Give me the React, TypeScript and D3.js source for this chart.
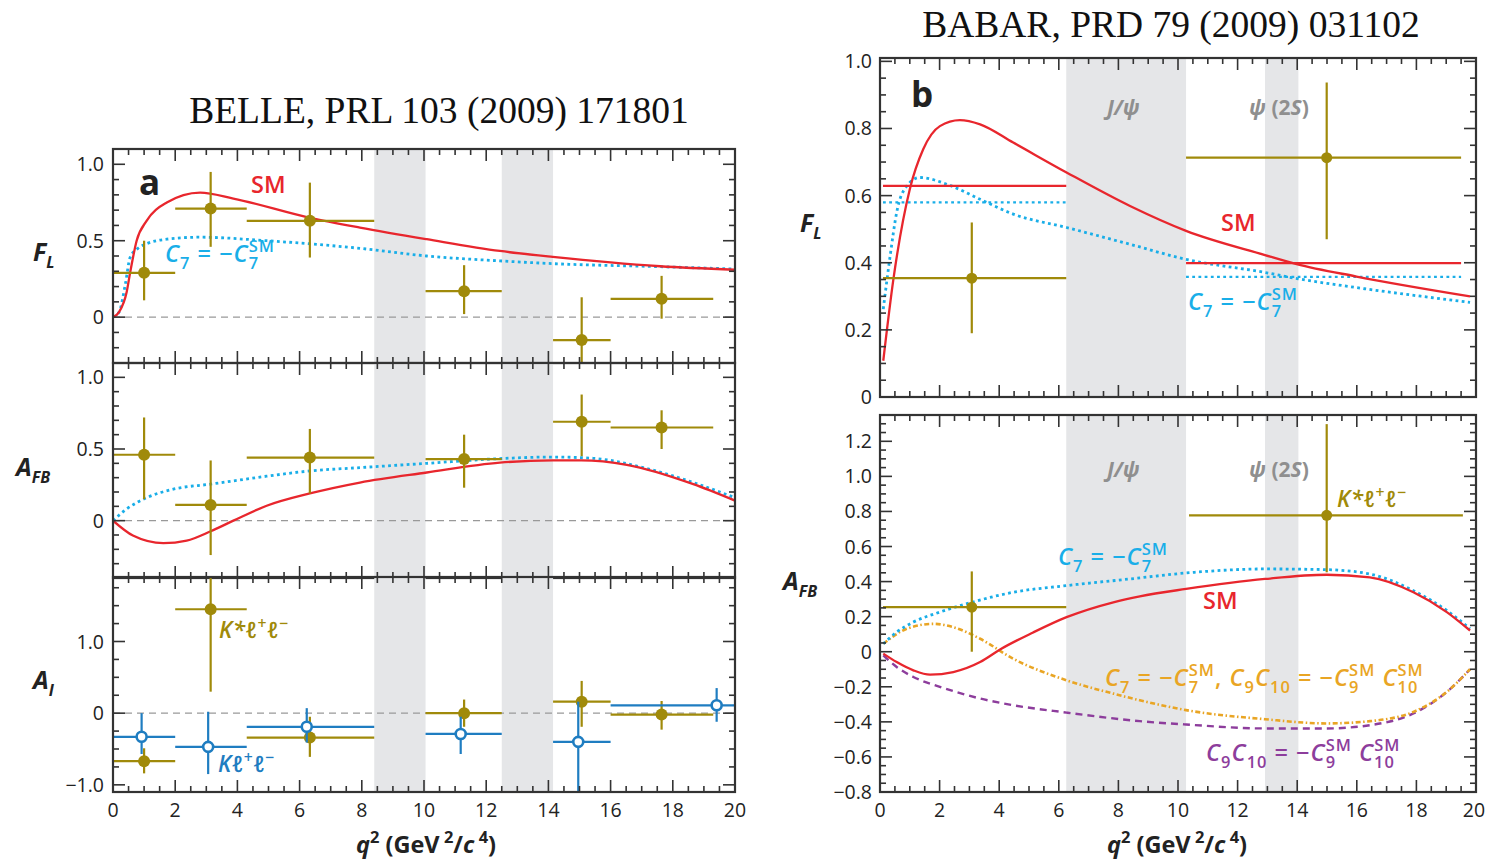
import React from 'react';
import * as d3 from 'd3';

const W = 1485;
const H = 860;
const FONT = "'Open Sans', 'Noto Sans', sans-serif";

// ---------------- Belle data (panel a) ----------------
const belleBinLo = [0, 2, 4.3, 10.05, 14.15, 16];
const belleBinHi = [2, 4.3, 8.4, 12.5, 16, 19.3];
const belleQ = [1.0, 3.14, 6.33, 11.29, 15.07, 17.64];
const belleFL = [0.29, 0.71, 0.63, 0.17, -0.15, 0.12];
const belleFLUp = [0.21, 0.24, 0.25, 0.17, 0.28, 0.15];
const belleFLDn = [0.18, 0.25, 0.24, 0.15, 0.25, 0.13];
const belleAFB = [0.46, 0.11, 0.44, 0.43, 0.69, 0.65];
const belleAFBUp = [0.26, 0.31, 0.2, 0.17, 0.19, 0.12];
const belleAFBDn = [0.31, 0.35, 0.25, 0.2, 0.24, 0.15];
const belleAIKst = [-0.67, 1.45, -0.34, 0.0, 0.16, -0.02];
const belleAIKstUp = [0.18, 0.45, 0.29, 0.19, 0.29, 0.19];
const belleAIKstDn = [0.17, 1.15, 0.27, 0.19, 0.35, 0.21];
const belleKQ = [0.92, 3.06, 6.23, 11.18, 14.96, 19.41];
const belleKLo = [0, 2, 4.3, 10.05, 14.15, 16];
const belleKHi = [2, 4.3, 8.4, 12.5, 16, 20];
const belleAIK = [-0.33, -0.47, -0.19, -0.29, -0.4, 0.11];
const belleAIKUp = [0.33, 0.49, 0.26, 0.24, 0.56, 0.24];
const belleAIKDn = [0.24, 0.38, 0.22, 0.28, 0.8, 0.23];
const belleVeto: [number, number][] = [[8.4, 10.05], [12.5, 14.15]];

// theory curves, panel a
const smFL_a: [number, number][] = [[0, 0], [0.2, 0.035], [0.44, 0.165], [0.55, 0.29], [0.76, 0.5], [1.08, 0.63], [1.73, 0.75], [2.8, 0.815], [3.87, 0.776], [6.33, 0.65], [7.94, 0.586], [10.09, 0.51], [12.44, 0.433], [14.14, 0.394], [17.59, 0.333], [20, 0.31]];
const c7FL_a: [number, number][] = [[0, 0], [0.2, 0.035], [0.4, 0.22], [0.55, 0.39], [0.8, 0.45], [1.08, 0.48], [1.73, 0.51], [2.8, 0.523], [4.94, 0.5], [7.94, 0.45], [10.09, 0.4], [12.44, 0.368], [14.14, 0.35], [17.59, 0.33], [20, 0.315]];
const smAFB_a: [number, number][] = [[0, 0], [0.64, -0.104], [1.62, -0.157], [2.37, -0.139], [3.14, -0.074], [3.87, 0], [4.94, 0.104], [6.33, 0.19], [7.94, 0.266], [10.09, 0.336], [12.44, 0.405], [14.14, 0.42], [15.05, 0.42], [16.52, 0.39], [18.66, 0.255], [20, 0.14]];
const c7AFB_a: [number, number][] = [[0, 0], [0.43, 0.08], [1.08, 0.16], [1.94, 0.22], [3.14, 0.255], [4.94, 0.31], [6.33, 0.347], [7.94, 0.37], [10.09, 0.4], [12.44, 0.433], [14.14, 0.444], [15.44, 0.435], [17.05, 0.37], [18.66, 0.266], [20, 0.16]];

// ---------------- BaBar data (panel b) ----------------
const babarFLLo = [0.1, 10.27];
const babarFLHi = [6.25, 19.5];
const babarQ = [3.08, 14.99];
const babarFL = [0.354, 0.713];
const babarFLUp = [0.166, 0.224];
const babarFLDn = [0.164, 0.243];
const babarAFBLo = [0.1, 10.37];
const babarAFBHi = [6.25, 19.56];
const babarAFB = [0.254, 0.778];
const babarAFBUp = [0.204, 0.52];
const babarAFBDn = [0.254, 0.325];
const smFLBinAvg = [0.629, 0.399];
const c7FLBinAvg = [0.58, 0.358];
const babarVeto: [number, number][] = [[6.25, 10.27], [12.92, 14.04]];

const smFL_b: [number, number][] = [[0.11, 0.108], [0.45, 0.351], [1.0, 0.619], [1.45, 0.738], [2.01, 0.807], [2.68, 0.825], [3.36, 0.8125], [4.47, 0.758], [6.26, 0.669], [8.39, 0.569], [10.27, 0.495], [12.92, 0.423], [13.98, 0.396], [15.99, 0.359], [19.8, 0.3]];
const c7FL_b: [number, number][] = [[0.11, 0.262], [0.34, 0.42], [0.56, 0.55], [0.9, 0.629], [1.34, 0.654], [2.24, 0.634], [3.36, 0.589], [4.47, 0.545], [6.26, 0.505], [8.39, 0.455], [10.27, 0.41], [12.92, 0.371], [13.98, 0.353], [15.99, 0.326], [19.8, 0.282]];
const smAFB_b: [number, number][] = [[0.11, -0.011], [0.56, -0.059], [1.12, -0.106], [1.68, -0.131], [2.46, -0.116], [3.36, -0.059], [4.03, 0.013], [5.14, 0.11], [6.26, 0.197], [7.83, 0.282], [8.72, 0.316], [10.27, 0.358], [12.92, 0.415], [14.99, 0.439], [16.44, 0.424], [17.9, 0.339], [19.02, 0.226], [19.8, 0.121]];
const c7AFB_b: [number, number][] = [[0.11, 0.045], [0.56, 0.112], [1.12, 0.169], [2.01, 0.226], [3.08, 0.282], [4.47, 0.339], [6.26, 0.377], [8.39, 0.415], [10.27, 0.449], [12.92, 0.472], [14.99, 0.468], [16.44, 0.443], [17.9, 0.348], [19.02, 0.235], [19.8, 0.131]];
const c7c9c10AFB_b: [number, number][] = [[0.11, 0.045], [0.9, 0.131], [1.79, 0.159], [2.46, 0.14], [3.36, 0.074], [4.47, -0.04], [6.26, -0.163], [7.83, -0.239], [8.72, -0.277], [10.27, -0.333], [12.92, -0.385], [14.99, -0.409], [16.44, -0.396], [17.9, -0.343], [19.02, -0.229], [19.8, -0.1]];
const c9c10AFB_b: [number, number][] = [[0.11, -0.021], [0.56, -0.087], [1.12, -0.144], [2.01, -0.2], [3.36, -0.267], [4.47, -0.305], [6.26, -0.347], [8.72, -0.396], [10.27, -0.415], [12.92, -0.4375], [14.99, -0.4375], [16.44, -0.419], [17.9, -0.352], [19.02, -0.229], [19.8, -0.1]];

// tick label lists
const yTicksA_FL = [0, 0.5, 1.0];
const yTicksA_AFB = [0, 0.5, 1.0];
const yTicksA_AI = [-1.0, 0, 1.0];
const yTicksB_FL = [0, 0.2, 0.4, 0.6, 0.8, 1.0];
const yTicksB_AFB = [-0.8, -0.6, -0.4, -0.2, 0, 0.2, 0.4, 0.6, 0.8, 1.0, 1.2];
const xTicks = [0, 2, 4, 6, 8, 10, 12, 14, 16, 18, 20];

// ---------------- colours ----------------
const RED = '#e8262d';
const CYAN = '#19aee8';
const GOLD = '#a08a0a';
const BLUE = '#1f7dc1';
const ORANGE = '#e9a524';
const PURPLE = '#8d3d9c';
const BAND = '#e5e6e8';
const FRAME = '#333';

type Piece = { t: string; it?: boolean; lvl?: 'sub' | 'sup'; dx?: number };

function Rich(props: { x: number; y: number; fs: number; fill: string; pieces: Piece[]; anchor?: string; weight?: number; family?: string; ls?: number }) {
  const { x, y, fs, fill, pieces, anchor = 'start', weight = 600, family = FONT, ls = 0 } = props;
  let cur = 0;
  return (
    <text x={x} y={y} fontSize={fs} fill={fill} fontFamily={family} fontWeight={weight} textAnchor={anchor as any} letterSpacing={ls} style={{ whiteSpace: 'pre' }}>
      {pieces.map((p, i) => {
        const target = p.lvl === 'sub' ? fs * 0.3 : p.lvl === 'sup' ? -fs * 0.42 : 0;
        const dy = target - cur;
        cur = target;
        return (
          <tspan key={i} dy={dy !== 0 ? dy : undefined} dx={p.dx} fontStyle={p.it ? 'italic' : 'normal'} fontSize={p.lvl ? fs * 0.7 : fs}>
            {p.t}
          </tspan>
        );
      })}
    </text>
  );
}

const subW = (fs: number, n: number, ls: number) => -(0.57 * fs * 0.7 * n + ls * n);

function cTerm(sub: string, fs: number, sm: boolean, ls = 1): Piece[] {
  const ps: Piece[] = [{ t: 'C', it: true }, { t: sub, lvl: 'sub' }];
  if (sm) ps.push({ t: 'SM', lvl: 'sup', dx: subW(fs, sub.length, ls) });
  return ps;
}

type Panel = {
  id: string;
  x: d3.ScaleLinear<number, number>;
  y: d3.ScaleLinear<number, number>;
  majors: number[];
  minorStep: number;
  fmt: (v: number) => string;
  labelX: number;
};

const xA = d3.scaleLinear().domain([0, 20]).range([113, 735]);
const xB = d3.scaleLinear().domain([0, 20]).range([880, 1476]);

const fmtA = (v: number) => (v === 0 ? '0' : (v < 0 ? '\u2212' : '') + Math.abs(v).toFixed(1));

const panels: Panel[] = [
  { id: 'aFL', x: xA, y: d3.scaleLinear().domain([-0.3, 1.1]).range([363, 149]), majors: yTicksA_FL, minorStep: 0.1, fmt: fmtA, labelX: 104 },
  { id: 'aAFB', x: xA, y: d3.scaleLinear().domain([-0.4, 1.1]).range([578, 363]), majors: yTicksA_AFB, minorStep: 0.1, fmt: fmtA, labelX: 104 },
  { id: 'aAI', x: xA, y: d3.scaleLinear().domain([-1.1, 1.9]).range([792, 577]), majors: yTicksA_AI, minorStep: 0.25, fmt: fmtA, labelX: 104 },
  { id: 'bFL', x: xB, y: d3.scaleLinear().domain([0, 1.01]).range([397, 58]), majors: yTicksB_FL, minorStep: 0.05, fmt: fmtA, labelX: 872 },
  { id: 'bAFB', x: xB, y: d3.scaleLinear().domain([-0.8, 1.35]).range([792, 415]), majors: yTicksB_AFB, minorStep: 0.05, fmt: fmtA, labelX: 872 },
];

function Frame({ p }: { p: Panel }) {
  const [x0, x1] = p.x.range();
  const [yb, yt] = p.y.range();
  const [d0, d1] = p.y.domain();
  const els: React.ReactNode[] = [];
  const ML = 12;
  const mL = 6;
  for (let k = 0; k <= 40; k++) {
    const v = k * 0.5;
    const major = k % 4 === 0;
    const len = major ? ML : mL;
    const px = p.x(v);
    els.push(<line key={'xt' + k} x1={px} x2={px} y1={yt} y2={yt + len} />);
    els.push(<line key={'xb' + k} x1={px} x2={px} y1={yb} y2={yb - len} />);
  }
  const kMin = Math.ceil(d0 / p.minorStep - 1e-6);
  const kMax = Math.floor(d1 / p.minorStep + 1e-6);
  for (let k = kMin; k <= kMax; k++) {
    const v = k * p.minorStep;
    const major = p.majors.some((m) => Math.abs(m - v) < 1e-6);
    const len = major ? ML : mL;
    const py = p.y(v);
    els.push(<line key={'yl' + k} x1={x0} x2={x0 + len} y1={py} y2={py} />);
    els.push(<line key={'yr' + k} x1={x1} x2={x1 - len} y1={py} y2={py} />);
  }
  return (
    <g>
      <g stroke={FRAME} strokeWidth={1.6}>{els}</g>
      <rect x={x0} y={yt} width={x1 - x0} height={yb - yt} fill="none" stroke={FRAME} strokeWidth={2.2} />
      <g fontFamily={FONT} fontSize={19.5} fill="#222" textAnchor="end">
        {p.majors.map((m) => (
          <text key={m} x={p.labelX} y={p.y(m) + 7}>
            {p.fmt(m)}
          </text>
        ))}
      </g>
    </g>
  );
}

function Bands({ p, veto }: { p: Panel; veto: [number, number][] }) {
  const [yb, yt] = p.y.range();
  return (
    <g>
      {veto.map(([a, b], i) => (
        <rect key={i} x={p.x(a)} y={yt} width={p.x(b) - p.x(a)} height={yb - yt} fill={BAND} />
      ))}
    </g>
  );
}

function Curve({ p, data, color, dash, width = 2.3 }: { p: Panel; data: [number, number][]; color: string; dash?: string; width?: number }) {
  const gen = d3
    .line<[number, number]>()
    .x((d) => p.x(d[0]))
    .y((d) => p.y(d[1]))
    .curve(d3.curveMonotoneX);
  return <path d={gen(data) || ''} fill="none" stroke={color} strokeWidth={width} strokeDasharray={dash} strokeLinecap="butt" />;
}

function Points(props: { p: Panel; q: number[]; lo: number[]; hi: number[]; v: number[]; up: number[]; dn: number[]; color: string; open?: boolean; r?: number }) {
  const { p, q, lo, hi, v, up, dn, color, open, r = 6 } = props;
  return (
    <g>
      {q.map((qq, i) => (
        <g key={i}>
          <line x1={p.x(lo[i])} x2={p.x(hi[i])} y1={p.y(v[i])} y2={p.y(v[i])} stroke={color} strokeWidth={2.2} />
          <line x1={p.x(qq)} x2={p.x(qq)} y1={p.y(v[i] + up[i])} y2={p.y(v[i] - dn[i])} stroke={color} strokeWidth={2.2} />
          <circle cx={p.x(qq)} cy={p.y(v[i])} r={open ? r - 1 : r} fill={open ? '#fff' : color} stroke={color} strokeWidth={open ? 2.6 : 0} />
        </g>
      ))}
    </g>
  );
}

function HSeg({ p, lo, hi, v, color, dash }: { p: Panel; lo: number[]; hi: number[]; v: number[]; color: string; dash?: string }) {
  return (
    <g>
      {v.map((vv, i) => (
        <line key={i} x1={p.x(lo[i])} x2={p.x(hi[i])} y1={p.y(vv)} y2={p.y(vv)} stroke={color} strokeWidth={2.4} strokeDasharray={dash} />
      ))}
    </g>
  );
}

function Clip({ p }: { p: Panel }) {
  const [x0, x1] = p.x.range();
  const [yb, yt] = p.y.range();
  return (
    <clipPath id={'clip-' + p.id}>
      <rect x={x0} y={yt} width={x1 - x0} height={yb - yt} />
    </clipPath>
  );
}

function ZeroLine({ p }: { p: Panel }) {
  const [x0, x1] = p.x.range();
  return <line x1={x0} x2={x1} y1={p.y(0)} y2={p.y(0)} stroke="#999" strokeWidth={1.4} strokeDasharray="7,5" />;
}

const DOT = '2.8,3.4';
const DASHDOT = '5,2.5,1.5,2.5';
const DASH = '7,5';

function XLabel({ cx, y }: { cx: number; y: number }) {
  return (
    <Rich
      x={cx}
      y={y}
      fs={23.5}
      fill="#222"
      weight={700}
      anchor="middle"
      pieces={[
        { t: 'q', it: true },
        { t: '2', lvl: 'sup' },
        { t: ' (GeV' },
        { t: ' 2', lvl: 'sup' },
        { t: '/' },
        { t: 'c', it: true },
        { t: ' 4', lvl: 'sup' },
        { t: ')' },
      ]}
    />
  );
}

function YLabel({ x, y, main, sub }: { x: number; y: number; main: string; sub: string }) {
  return (
    <text x={x} y={y} fontFamily={FONT} fontWeight={700} fontStyle="italic" fontSize={25} fill="#222">
      {main}
      <tspan fontSize={16} dy={7}>
        {sub}
      </tspan>
    </text>
  );
}

export default function App() {
  const [pFLa, pAFBa, pAIa, pFLb, pAFBb] = panels;
  const fs = 23.5;
  const c7Label: Piece[] = [...cTerm('7', fs, false), { t: ' = \u2212' }, ...cTerm('7', fs, true)];
  const orangeLabel: Piece[] = [
    ...cTerm('7', fs, false),
    { t: ' = \u2212' },
    ...cTerm('7', fs, true),
    { t: ', ' },
    ...cTerm('9', fs, false),
    ...cTerm('10', fs, false),
    { t: ' = \u2212' },
    ...cTerm('9', fs, true),
    { t: ' ' },
    ...cTerm('10', fs, true),
  ];
  const purpleLabel: Piece[] = [
    ...cTerm('9', fs, false),
    ...cTerm('10', fs, false),
    { t: ' = \u2212' },
    ...cTerm('9', fs, true),
    { t: ' ' },
    ...cTerm('10', fs, true),
  ];
  const kstLabel: Piece[] = [{ t: 'K*', it: true }, { t: '\u2113', it: true }, { t: '+', lvl: 'sup' }, { t: '\u2113', it: true }, { t: '\u2212', lvl: 'sup' }];
  const kLabel: Piece[] = [{ t: 'K', it: true }, { t: '\u2113', it: true }, { t: '+', lvl: 'sup' }, { t: '\u2113', it: true }, { t: '\u2212', lvl: 'sup' }];

  return (
    <svg width={W} height={H} viewBox={`0 0 ${W} ${H}`} style={{ position: 'absolute', left: 0, top: 0, background: '#fff' }}>
      <defs>
        {panels.map((p) => (
          <Clip key={p.id} p={p} />
        ))}
      </defs>
      <rect width={W} height={H} fill="#fff" />

      {/* titles */}
      <text x={439} y={123} fontFamily="'Liberation Serif', 'Times New Roman', serif" fontSize={37.5} textAnchor="middle" fill="#111">
        BELLE, PRL 103 (2009) 171801
      </text>
      <text x={1171} y={37} fontFamily="'Liberation Serif', 'Times New Roman', serif" fontSize={37.5} textAnchor="middle" fill="#111">
        BABAR, PRD 79 (2009) 031102
      </text>

      {/* ---------- panel a: FL ---------- */}
      <g clipPath="url(#clip-aFL)">
        <Bands p={pFLa} veto={belleVeto} />
        <ZeroLine p={pFLa} />
        <Curve p={pFLa} data={c7FL_a} color={CYAN} dash={DOT} width={2.8} />
        <Curve p={pFLa} data={smFL_a} color={RED} />
        <Points p={pFLa} q={belleQ} lo={belleBinLo} hi={belleBinHi} v={belleFL} up={belleFLUp} dn={belleFLDn} color={GOLD} />
      </g>
      <Frame p={pFLa} />

      {/* ---------- panel a: AFB ---------- */}
      <g clipPath="url(#clip-aAFB)">
        <Bands p={pAFBa} veto={belleVeto} />
        <ZeroLine p={pAFBa} />
        <Curve p={pAFBa} data={c7AFB_a} color={CYAN} dash={DOT} width={2.8} />
        <Curve p={pAFBa} data={smAFB_a} color={RED} />
        <Points p={pAFBa} q={belleQ} lo={belleBinLo} hi={belleBinHi} v={belleAFB} up={belleAFBUp} dn={belleAFBDn} color={GOLD} />
      </g>
      <Frame p={pAFBa} />

      {/* ---------- panel a: AI ---------- */}
      <g clipPath="url(#clip-aAI)">
        <Bands p={pAIa} veto={belleVeto} />
        <ZeroLine p={pAIa} />
        <Points p={pAIa} q={belleQ} lo={belleBinLo} hi={belleBinHi} v={belleAIKst} up={belleAIKstUp} dn={belleAIKstDn} color={GOLD} />
        <Points p={pAIa} q={belleKQ} lo={belleKLo} hi={belleKHi} v={belleAIK} up={belleAIKUp} dn={belleAIKDn} color={BLUE} open />
      </g>
      <Frame p={pAIa} />
      <g fontFamily={FONT} fontSize={19.5} fill="#222" textAnchor="middle">
        {xTicks.map((t) => (
          <text key={'xa' + t} x={xA(t)} y={817}>
            {t}
          </text>
        ))}
        {xTicks.map((t) => (
          <text key={'xb' + t} x={t === 20 ? xB(t) - 2 : xB(t)} y={817}>
            {t}
          </text>
        ))}
      </g>

      {/* ---------- panel b: FL ---------- */}
      <g clipPath="url(#clip-bFL)">
        <Bands p={pFLb} veto={babarVeto} />
        <Curve p={pFLb} data={c7FL_b} color={CYAN} dash={DOT} width={2.8} />
        <HSeg p={pFLb} lo={babarFLLo} hi={babarFLHi} v={c7FLBinAvg} color={CYAN} dash={DOT} />
        <Curve p={pFLb} data={smFL_b} color={RED} />
        <HSeg p={pFLb} lo={babarFLLo} hi={babarFLHi} v={smFLBinAvg} color={RED} />
        <Points p={pFLb} q={babarQ} lo={babarFLLo} hi={babarFLHi} v={babarFL} up={babarFLUp} dn={babarFLDn} color={GOLD} r={5.5} />
      </g>
      <Frame p={pFLb} />

      {/* ---------- panel b: AFB ---------- */}
      <g clipPath="url(#clip-bAFB)">
        <Bands p={pAFBb} veto={babarVeto} />
        <Curve p={pAFBb} data={c9c10AFB_b} color={PURPLE} dash={DASH} width={2.4} />
        <Curve p={pAFBb} data={c7c9c10AFB_b} color={ORANGE} dash={DASHDOT} width={2.6} />
        <Curve p={pAFBb} data={c7AFB_b} color={CYAN} dash={DOT} width={2.8} />
        <Curve p={pAFBb} data={smAFB_b} color={RED} />
        <Points p={pAFBb} q={babarQ} lo={babarAFBLo} hi={babarAFBHi} v={babarAFB} up={babarAFBUp} dn={babarAFBDn} color={GOLD} r={5.5} />
      </g>
      <Frame p={pAFBb} />

      {/* axis labels */}
      <YLabel x={33} y={261} main="F" sub="L" />
      <YLabel x={16} y={476} main="A" sub="FB" />
      <YLabel x={33} y={689} main="A" sub="I" />
      <YLabel x={800} y={232} main="F" sub="L" />
      <YLabel x={783} y={590} main="A" sub="FB" />
      <XLabel cx={426} y={853} />
      <XLabel cx={1177} y={853} />

      {/* panel letters */}
      <text x={139} y={195} fontFamily={FONT} fontWeight={700} fontSize={35} fill="#222">
        a
      </text>
      <text x={911} y={107} fontFamily={FONT} fontWeight={700} fontSize={35} fill="#222">
        b
      </text>

      {/* annotations panel a */}
      <text x={251} y={193} fontFamily={FONT} fontWeight={600} fontSize={23.5} fill={RED}>
        SM
      </text>
      <Rich x={165} y={262} fs={fs} fill={CYAN} pieces={c7Label} ls={1} />
      <Rich x={219} y={638} fs={22.5} fill={GOLD} pieces={kstLabel} ls={0.5} />
      <Rich x={218} y={772} fs={22.5} fill={BLUE} pieces={kLabel} ls={0.5} />

      {/* annotations panel b */}
      <text x={1221} y={231} fontFamily={FONT} fontWeight={600} fontSize={23.5} fill={RED}>
        SM
      </text>
      <Rich x={1188} y={310} fs={fs} fill={CYAN} pieces={c7Label} ls={1} />
      <Rich x={1058} y={565} fs={fs} fill={CYAN} pieces={c7Label} ls={1} />
      <text x={1203} y={609} fontFamily={FONT} fontWeight={600} fontSize={23.5} fill={RED}>
        SM
      </text>
      <Rich x={1337} y={507} fs={22.5} fill={GOLD} pieces={kstLabel} ls={0.5} />
      <Rich x={1105} y={686} fs={fs} fill={ORANGE} pieces={orangeLabel} ls={1} />
      <Rich x={1206} y={761} fs={fs} fill={PURPLE} pieces={purpleLabel} ls={1} />

      {/* resonance labels */}
      {[115, 477].map((yy) => (
        <g key={yy} fontFamily={FONT} fontWeight={700} fontSize={21} fill="#8f8f8f" fontStyle="italic">
          <text x={1107} y={yy}>J/ψ</text>
          <text x={1249} y={yy}>
            ψ<tspan fontStyle="normal"> (2</tspan>S<tspan fontStyle="normal">)</tspan>
          </text>
        </g>
      ))}
    </svg>
  );
}
